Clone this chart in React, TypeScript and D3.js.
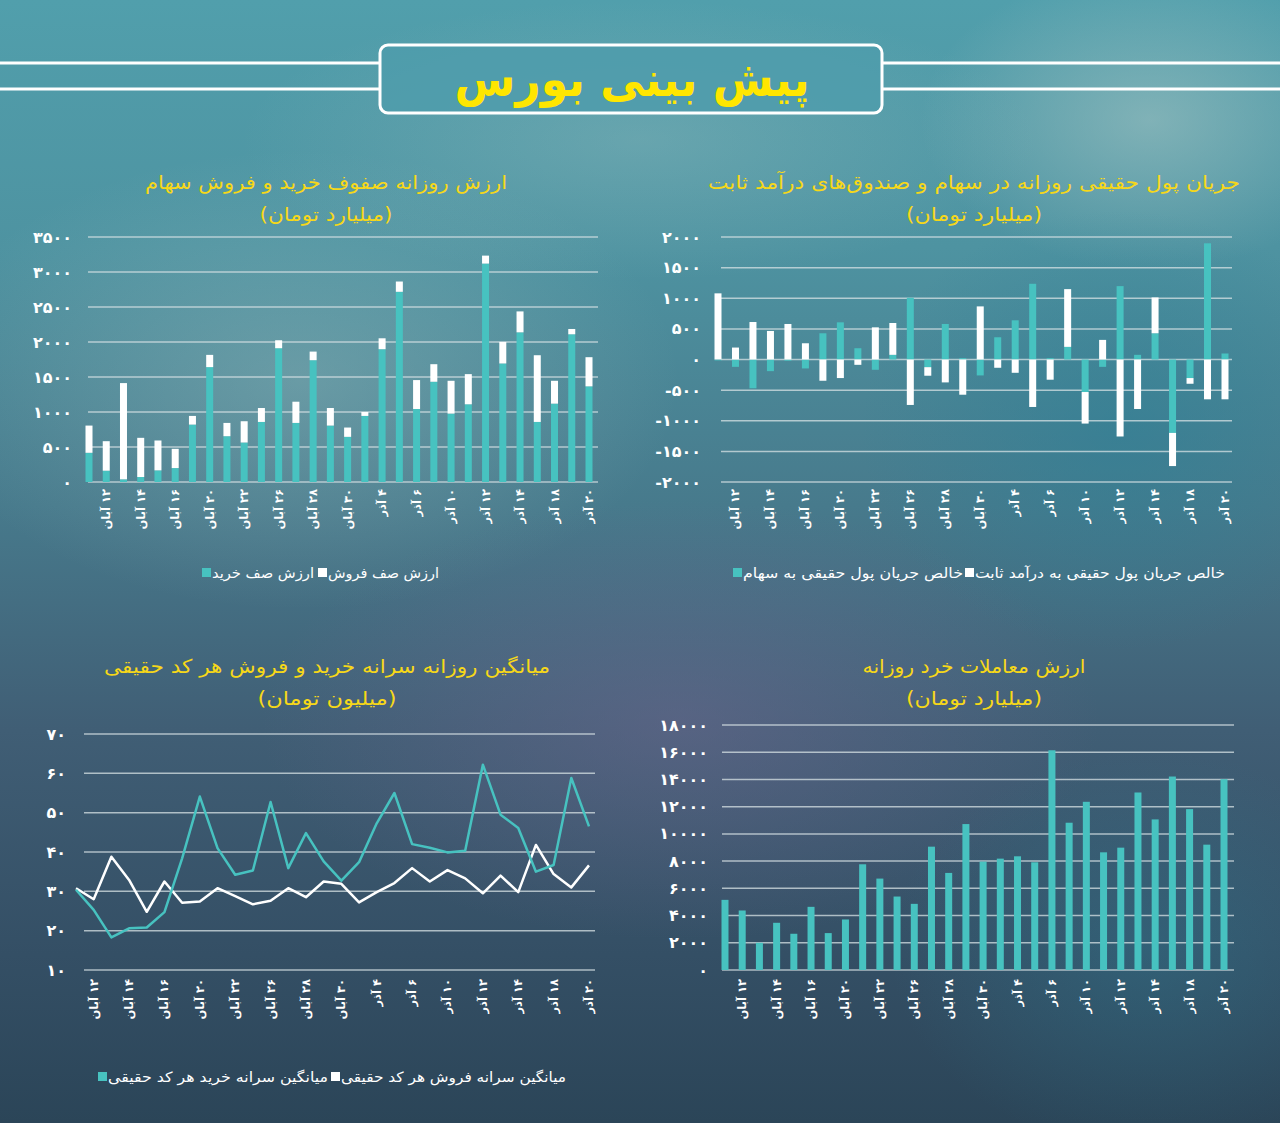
import React, { useEffect } from 'react';
import * as d3 from 'd3';

const dates = ["۹ آبان","۱۲ آبان","۱۳ آبان","۱۴ آبان","۱۵ آبان","۱۶ آبان","۱۹ آبان","۲۰ آبان","۲۱ آبان","۲۲ آبان","۲۳ آبان","۲۶ آبان","۲۷ آبان","۲۸ آبان","۲۹ آبان","۳۰ آبان","۳ آذر","۴ آذر","۵ آذر","۶ آذر","۷ آذر","۱۰ آذر","۱۱ آذر","۱۲ آذر","۱۳ آذر","۱۴ آذر","۱۷ آذر","۱۸ آذر","۱۹ آذر","۲۰ آذر"];

// Top-left: buy / sell queue values (billion toman)
const buyQueue = [417,161,38,71,166,199,820,1641,654,564,858,1911,844,1740,806,645,944,1897,2717,1043,1432,977,1110,3120,1693,2138,858,1119,2110,1366];
const sellQueue = [389,422,1375,560,427,275,124,175,190,304,199,114,303,123,251,133,56,156,147,413,251,469,431,114,308,299,953,327,76,417];
const queueTicks = [0,500,1000,1500,2000,2500,3000,3500];

// Top-right: real money flow
const stockFlow = [-15,-120,-470,-190,-20,-146,428,607,184,-168,76,1008,-125,580,22,-260,363,640,1236,22,206,-531,-120,1198,76,428,-1198,-303,1897,98];
const fixedFlow = [1080,195,612,466,580,265,-347,-303,-87,525,520,-742,-140,-374,-575,867,-135,-217,-775,-330,943,-515,320,-1257,-808,585,-542,-93,-650,-650];
const flowTicks = [-2000,-1500,-1000,-500,0,500,1000,1500,2000];

// Bottom-left: per capita buy / sell (million toman)
const buyPerCapita = [30.4,25.3,18.3,20.6,20.8,24.7,38.4,54.1,41.0,34.2,35.3,52.7,35.9,44.8,37.6,32.7,37.4,47.3,55.0,42.0,41.1,39.9,40.3,62.2,49.5,46.1,35.0,36.7,58.8,46.5];
const sellPerCapita = [30.8,28.0,38.8,32.9,24.8,32.5,27.1,27.4,30.8,28.8,26.7,27.6,30.8,28.5,32.5,31.9,27.2,29.8,32.1,35.9,32.5,35.4,33.3,29.5,34.0,29.8,41.8,34.4,31.0,36.6];
const perCapitaTicks = [10,20,30,40,50,60,70];

// Bottom-right: retail trade value
const retailValue = [5153,4372,2003,3468,2662,4640,2711,3712,7767,6716,5397,4860,9061,7132,10722,7962,8182,8353,7913,16144,10820,12358,8646,8988,13042,11064,14215,11821,9208,14019];
const retailTicks = [0,2000,4000,6000,8000,10000,12000,14000,16000,18000];

const TEAL = '#47c2c0';
const YELLOW = '#f7d818';
const GRID = 'rgba(215,225,228,0.75)';
const FONT = '"DejaVu Sans", sans-serif';

const fa = (n: number) => String(n).replace(/\d/g, (d) => '۰۱۲۳۴۵۶۷۸۹'[+d]);

function YAxis({ y, ticks, x0, x1, labelX }: any) {
  return (
    <g>
      {ticks.map((t: number) => (
        <g key={t}>
          <line x1={x0} x2={x1} y1={y(t)} y2={y(t)} stroke={GRID} strokeWidth={1.5} />
          <text x={labelX} y={y(t)} textAnchor="end" dominantBaseline="central" fill="#fff" fontWeight="bold" fontSize={16} fontFamily={FONT}>{fa(t)}</text>
        </g>
      ))}
    </g>
  );
}

function XLabels({ x, top }: any) {
  return (
    <g>
      {dates.map((d, i) => i % 2 === 1 ? (
        <text key={i} transform={`translate(${x(d)},${top}) rotate(-90)`} direction="rtl" textAnchor="start" dominantBaseline="central" fill="#fff" fontWeight="bold" fontSize={11.5} fontFamily={FONT}>{d}</text>
      ) : null)}
    </g>
  );
}

function Title({ cx, y, line1, w1, line2, w2 }: any) {
  return (
    <g fill={YELLOW} fontFamily={FONT} fontSize={19} textAnchor="middle">
      <text x={cx} y={y} textLength={w1} lengthAdjust="spacingAndGlyphs">{line1}</text>
      <text x={cx} y={y + 32} textLength={w2} lengthAdjust="spacingAndGlyphs">{line2}</text>
    </g>
  );
}

function Legend({ y, items }: any) {
  return (
    <g fontFamily={FONT} fontSize={14} fill="#fff">
      {items.map((it: any, i: number) => (
        <g key={i}>
          <rect x={it.sx} y={y - 5} width={9} height={9} fill={it.color} />
          <text x={it.sx + 10} y={y} dominantBaseline="central" textLength={it.w} lengthAdjust="spacingAndGlyphs">{it.label}</text>
        </g>
      ))}
    </g>
  );
}

export default function App() {
  useEffect(() => { document.body.style.margin = '0'; }, []);

  // Top-left
  const xTL = d3.scalePoint<string>().domain(dates).range([89, 589]);
  const yTL = d3.scaleLinear().domain([0, 3500]).range([482, 237]);
  // Top-right
  const xTR = d3.scalePoint<string>().domain(dates).range([718, 1225]);
  const yTR = d3.scaleLinear().domain([-2000, 2000]).range([482, 237]);
  const flowRows = dates.map((d, i) => ({ d, stock: stockFlow[i], fixed: fixedFlow[i] }));
  const flowStack = d3.stack<any>().keys(['stock', 'fixed']).offset(d3.stackOffsetDiverging)(flowRows);
  // Bottom-left
  const xBL = d3.scalePoint<string>().domain(dates).range([76, 589]);
  const yBL = d3.scaleLinear().domain([10, 70]).range([970, 734]);
  const line = d3.line<number>().x((_, i) => xBL(dates[i])!).y((v) => yBL(v));
  // Bottom-right
  const xBR = d3.scalePoint<string>().domain(dates).range([725, 1224]);
  const yBR = d3.scaleLinear().domain([0, 18000]).range([970, 725]);

  const bw = 7;

  return (
    <svg width={1280} height={1123} style={{ position: 'absolute', left: 0, top: 0, display: 'block' }}>
      <defs>
        <linearGradient id="bg" x1="0" y1="0" x2="0" y2="1">
          <stop offset="0" stopColor="#519fac" />
          <stop offset="0.22" stopColor="#4e93a1" />
          <stop offset="0.45" stopColor="#477a8c" />
          <stop offset="0.65" stopColor="#405e75" />
          <stop offset="0.85" stopColor="#344f65" />
          <stop offset="1" stopColor="#2b4558" />
        </linearGradient>
        <radialGradient id="g1" cx="0.5" cy="0.5" r="0.5">
          <stop offset="0" stopColor="#a8c6c4" stopOpacity="0.55" />
          <stop offset="1" stopColor="#a8c6c4" stopOpacity="0" />
        </radialGradient>
        <radialGradient id="g2" cx="0.5" cy="0.5" r="0.5">
          <stop offset="0" stopColor="#6e6890" stopOpacity="0.5" />
          <stop offset="1" stopColor="#6e6890" stopOpacity="0" />
        </radialGradient>
        <radialGradient id="g3" cx="0.5" cy="0.5" r="0.5">
          <stop offset="0" stopColor="#2f7f95" stopOpacity="0.6" />
          <stop offset="1" stopColor="#2f7f95" stopOpacity="0" />
        </radialGradient>
      </defs>
      <rect width={1280} height={1123} fill="url(#bg)" />
      <ellipse cx={1150} cy={120} rx={230} ry={150} fill="url(#g1)" />
      <ellipse cx={300} cy={380} rx={380} ry={230} fill="url(#g1)" opacity={0.6} />
      <ellipse cx={640} cy={140} rx={400} ry={140} fill="url(#g1)" opacity={0.5} />
      <ellipse cx={1120} cy={430} rx={260} ry={220} fill="url(#g3)" />
      <ellipse cx={680} cy={720} rx={420} ry={220} fill="url(#g2)" />
      <ellipse cx={1150} cy={950} rx={260} ry={200} fill="url(#g3)" opacity={0.6} />

      {/* Header */}
      <g>
        <line x1={0} x2={380} y1={63} y2={63} stroke="#fff" strokeWidth={3} />
        <line x1={0} x2={380} y1={89} y2={89} stroke="#fff" strokeWidth={3} />
        <line x1={882} x2={1280} y1={63} y2={63} stroke="#fff" strokeWidth={3} />
        <line x1={882} x2={1280} y1={89} y2={89} stroke="#fff" strokeWidth={3} />
        <rect x={380} y={45} width={502} height={68} rx={8} fill="#4f9cab" fillOpacity={0.85} stroke="#fff" strokeWidth={3} />
        <text x={632} y={96} textAnchor="middle" fill="#ffe600" fontWeight="bold" fontSize={48} fontFamily={FONT} textLength={355} lengthAdjust="spacingAndGlyphs">پیش بینی بورس</text>
      </g>

      {/* Top-left chart */}
      <Title cx={326} y={189} line1="ارزش روزانه صفوف خرید و فروش سهام" w1={362} line2="(میلیارد تومان)" w2={133} />
      <YAxis y={yTL} ticks={queueTicks} x0={88} x1={598} labelX={72} />
      {dates.map((d, i) => (
        <g key={d}>
          <rect x={xTL(d)! - bw / 2} y={yTL(buyQueue[i])} width={bw} height={yTL(0) - yTL(buyQueue[i])} fill={TEAL} />
          <rect x={xTL(d)! - bw / 2} y={yTL(buyQueue[i] + sellQueue[i])} width={bw} height={yTL(buyQueue[i]) - yTL(buyQueue[i] + sellQueue[i])} fill="#fff" />
        </g>
      ))}
      <XLabels x={xTL} top={489} />
      <Legend y={573} items={[
        { sx: 202, color: TEAL, label: 'ارزش صف خرید', w: 102 },
        { sx: 318, color: '#fff', label: 'ارزش صف فروش', w: 111 },
      ]} />

      {/* Top-right chart */}
      <Title cx={974} y={189} line1="جریان پول حقیقی روزانه در سهام و صندوق‌های درآمد ثابت" w1={532} line2="(میلیارد تومان)" w2={136} />
      <YAxis y={yTR} ticks={flowTicks} x0={721} x1={1232} labelX={701} />
      {flowStack.map((s, si) => (
        <g key={s.key} fill={si === 0 ? TEAL : '#fff'}>
          {s.map((p, i) => (
            <rect key={i} x={xTR(dates[i])! - bw / 2} y={yTR(Math.max(p[0], p[1]))} width={bw} height={Math.abs(yTR(p[0]) - yTR(p[1]))} />
          ))}
        </g>
      ))}
      <XLabels x={xTR} top={489} />
      <Legend y={573} items={[
        { sx: 733, color: TEAL, label: 'خالص جریان پول حقیقی به سهام', w: 220 },
        { sx: 965, color: '#fff', label: 'خالص جریان پول حقیقی به درآمد ثابت', w: 250 },
      ]} />

      {/* Bottom-left chart */}
      <Title cx={327} y={673} line1="میانگین روزانه سرانه خرید و فروش هر کد حقیقی" w1={446} line2="(میلیون تومان)" w2={139} />
      <YAxis y={yBL} ticks={perCapitaTicks} x0={84} x1={595} labelX={66} />
      <path d={line(sellPerCapita)!} fill="none" stroke="#fff" strokeWidth={2.5} strokeLinejoin="round" />
      <path d={line(buyPerCapita)!} fill="none" stroke={TEAL} strokeWidth={2.5} strokeLinejoin="round" />
      <XLabels x={xBL} top={979} />
      <Legend y={1077} items={[
        { sx: 98, color: TEAL, label: 'میانگین سرانه خرید هر کد حقیقی', w: 220 },
        { sx: 331, color: '#fff', label: 'میانگین سرانه فروش هر کد حقیقی', w: 225 },
      ]} />

      {/* Bottom-right chart */}
      <Title cx={974} y={673} line1="ارزش معاملات خرد روزانه" w1={223} line2="(میلیارد تومان)" w2={136} />
      <YAxis y={yBR} ticks={retailTicks} x0={722} x1={1234} labelX={708} />
      {dates.map((d, i) => (
        <rect key={d} x={xBR(d)! - bw / 2} y={yBR(retailValue[i])} width={bw} height={yBR(0) - yBR(retailValue[i])} fill={TEAL} />
      ))}
      <XLabels x={xBR} top={979} />
    </svg>
  );
}
